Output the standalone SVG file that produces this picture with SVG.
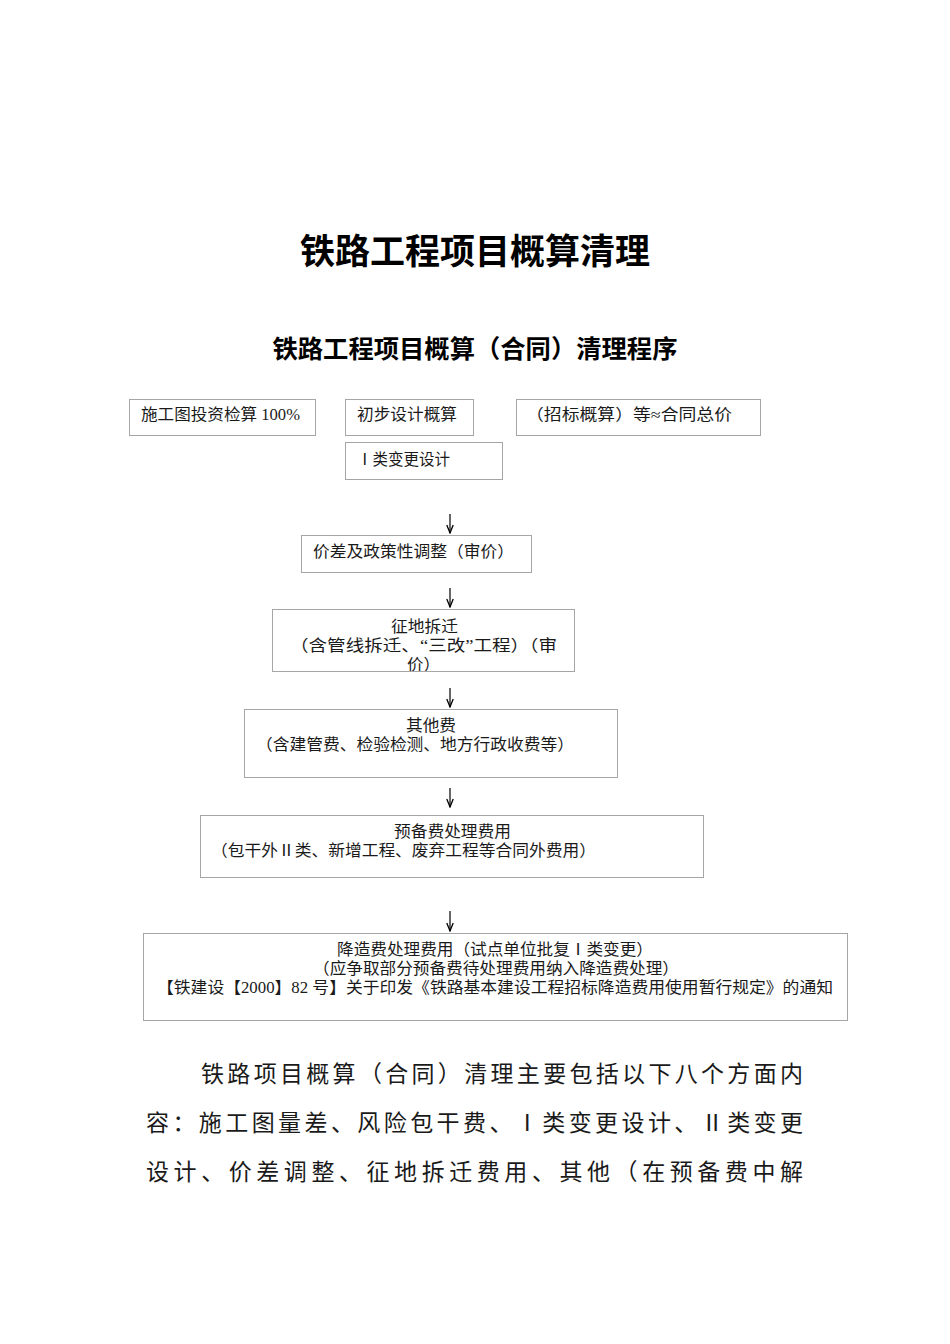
<svg xmlns="http://www.w3.org/2000/svg" width="950" height="1344" viewBox="0 0 950 1344">
<style>
.box{fill:#fff;stroke:#a6a6a6;stroke-width:1}
.t{font-family:"Liberation Serif","Noto Sans CJK SC",serif;font-size:16px;fill:#1a1a1a}
.c{text-anchor:middle}
.h1{font-family:"Liberation Sans","Noto Sans CJK SC",sans-serif;font-size:35px;font-weight:bold;fill:#000;text-anchor:middle}
.h2{font-family:"Liberation Sans","Noto Sans CJK SC",sans-serif;font-size:25px;font-weight:bold;fill:#000;text-anchor:middle}
.p{font-family:"Liberation Serif","Noto Sans CJK SC",serif;font-size:23px;fill:#1a1a1a}
.conn line{stroke:#000;stroke-width:1.2;marker-end:url(#ah)}
</style>
<defs>
<marker id="ah" markerWidth="10" markerHeight="8" refX="9" refY="4" orient="auto" markerUnits="userSpaceOnUse" viewBox="0 0 10 8">
<path d="M1,0.8 L9,4 L1,7.2" fill="none" stroke="#000" stroke-width="1.3"/>
</marker>
<clipPath id="clip6"><rect x="272" y="609" width="302" height="62"/></clipPath>
</defs>
<rect width="950" height="1344" fill="#fff"/>
<text class="h1" x="475" y="264" textLength="350" lengthAdjust="spacingAndGlyphs">铁路工程项目概算清理</text>
<text class="h2" x="475" y="358" textLength="405" lengthAdjust="spacingAndGlyphs">铁路工程项目概算（合同）清理程序</text>

<g id="n1"><rect class="box" x="129.5" y="399.5" width="186" height="36"/><text class="t" x="141" y="420" textLength="159" lengthAdjust="spacingAndGlyphs">施工图投资检算 100%</text></g>
<g id="n2"><rect class="box" x="345.5" y="399.5" width="128" height="36"/><text class="t" x="357" y="420" textLength="100" lengthAdjust="spacingAndGlyphs">初步设计概算</text></g>
<g id="n3"><rect class="box" x="516.5" y="399.5" width="244" height="36"/><text class="t" x="526" y="420" textLength="206" lengthAdjust="spacingAndGlyphs">（招标概算）等≈合同总价</text></g>
<g id="n4"><rect class="box" x="345.5" y="442.5" width="157" height="37"/><text class="t" x="357" y="465" textLength="93" lengthAdjust="spacingAndGlyphs">Ⅰ类变更设计</text></g>
<g id="n5"><rect class="box" x="301.5" y="535.5" width="230" height="37"/><text class="t" x="313" y="557" textLength="201" lengthAdjust="spacingAndGlyphs">价差及政策性调整（审价）</text></g>
<g id="n6"><rect class="box" x="272.5" y="609.5" width="302" height="62"/>
<g clip-path="url(#clip6)"><text class="t" x="391" y="632" textLength="67" lengthAdjust="spacingAndGlyphs">征地拆迁</text><text class="t" x="290" y="651" textLength="267" lengthAdjust="spacingAndGlyphs">（含管线拆迁、“三改”工程）（审</text><text class="t" x="407" y="670" textLength="33" lengthAdjust="spacingAndGlyphs">价）</text></g></g>
<g id="n7"><rect class="box" x="244.5" y="709.5" width="373" height="68"/><text class="t" x="406" y="731" textLength="50" lengthAdjust="spacingAndGlyphs">其他费</text><text class="t" x="256" y="750" textLength="318" lengthAdjust="spacingAndGlyphs">（含建管费、检验检测、地方行政收费等）</text></g>
<g id="n8"><rect class="box" x="200.5" y="815.5" width="503" height="62"/><text class="t" x="394" y="837" textLength="117" lengthAdjust="spacingAndGlyphs">预备费处理费用</text><text class="t" x="211" y="856" textLength="385" lengthAdjust="spacingAndGlyphs">（包干外Ⅱ类、新增工程、废弃工程等合同外费用）</text></g>
<g id="n9"><rect class="box" x="143.5" y="933.5" width="704" height="87"/>
<text class="t" x="337" y="955" textLength="316" lengthAdjust="spacingAndGlyphs">降造费处理费用（试点单位批复Ⅰ类变更）</text>
<text class="t" x="313" y="974" textLength="366" lengthAdjust="spacingAndGlyphs">（应争取部分预备费待处理费用纳入降造费处理）</text>
<text class="t" x="157" y="993" textLength="676" lengthAdjust="spacingAndGlyphs">【铁建设【2000】82 号】关于印发《铁路基本建设工程招标降造费用使用暂行规定》的通知</text></g>

<g id="connectors" class="conn">
<line x1="450" y1="514" x2="450" y2="533"/>
<line x1="450" y1="588" x2="450" y2="607"/>
<line x1="450" y1="688" x2="450" y2="707"/>
<line x1="450" y1="788" x2="450" y2="807"/>
<line x1="450" y1="911" x2="450" y2="931"/>
</g>

<text class="p" x="201" y="1082" textLength="602" lengthAdjust="spacing">铁路项目概算（合同）清理主要包括以下八个方面内</text>
<text class="p" x="146" y="1131" textLength="657" lengthAdjust="spacing">容：施工图量差、风险包干费、Ⅰ类变更设计、Ⅱ类变更</text>
<text class="p" x="146" y="1180" textLength="657" lengthAdjust="spacing">设计、价差调整、征地拆迁费用、其他（在预备费中解</text>
</svg>
